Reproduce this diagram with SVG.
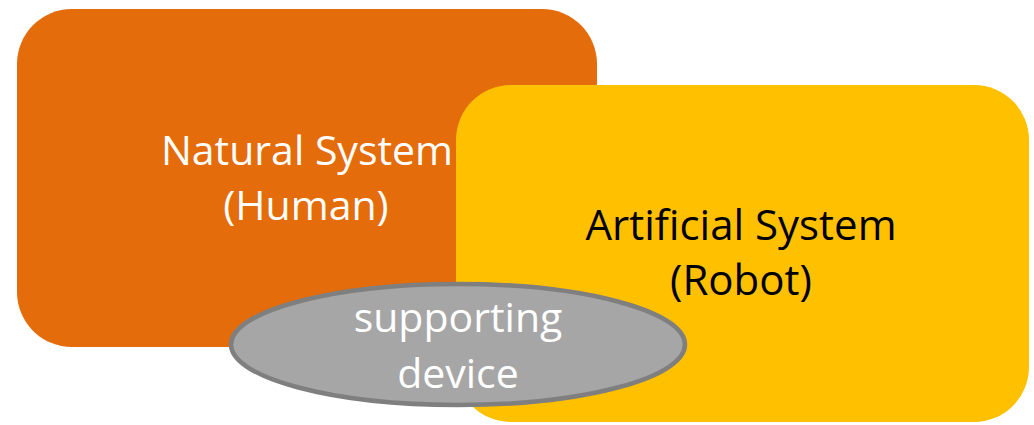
<svg xmlns="http://www.w3.org/2000/svg" width="1034" height="425" viewBox="0 0 1034 425">
  <style>
    .label { font-family: "Open Sans", "Liberation Sans", sans-serif; font-size: 41px; text-anchor: middle; }
    .big { font-size: 42px; }
    .light { fill: #FFFFFF; }
    .dark { fill: #000000; }
  </style>
  <rect width="1034" height="425" fill="#FFFFFF"/>
  <g id="natural-system">
    <rect x="17" y="9" width="580" height="338" rx="55" ry="55" fill="#E46C0A"/>
    <text class="label light" x="307" y="165">Natural System</text>
    <text class="label light" x="306" y="220">(Human)</text>
  </g>
  <g id="artificial-system">
    <rect x="456" y="85" width="573" height="337" rx="55" ry="55" fill="#FFC000"/>
    <text class="label big dark" x="741" y="240">Artificial System</text>
    <text class="label big dark" x="741" y="295">(Robot)</text>
  </g>
  <g id="supporting-device">
    <ellipse cx="458" cy="344.5" rx="227" ry="60.5" fill="#A6A6A6" stroke="#7F7F7F" stroke-width="4.5"/>
    <text class="label light" x="458" y="332">supporting</text>
    <text class="label light" x="458" y="388">device</text>
  </g>
  <g id="connectors"/>
</svg>
